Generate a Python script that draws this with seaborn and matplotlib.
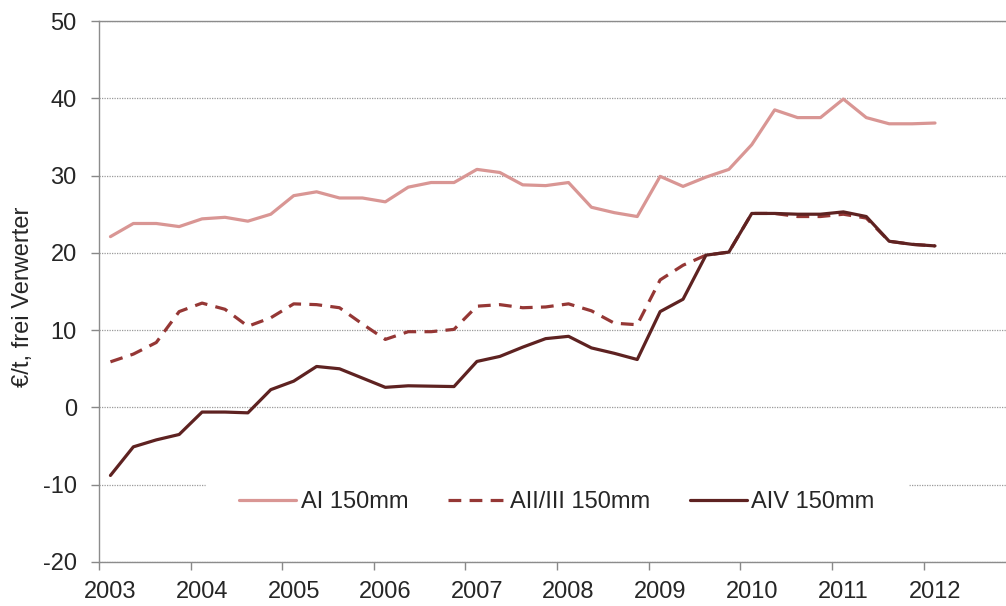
import numpy as np
import pandas as pd
import matplotlib
matplotlib.use("Agg")
import matplotlib.pyplot as plt
import seaborn as sns
from matplotlib.ticker import FixedLocator, NullFormatter

# ---- data (quarterly, 2003 Q1 .. 2012 Q1) ----
years = ["2003", "2004", "2005", "2006", "2007", "2008", "2009", "2010", "2011", "2012"]
series_names = ["AI 150mm", "AII/III 150mm", "AIV 150mm"]

ai = [22.1, 23.8, 23.8, 23.4, 24.4, 24.6, 24.1, 25.0,
      27.4, 27.9, 27.1, 27.1, 26.6, 28.5, 29.1, 29.1,
      30.8, 30.4, 28.8, 28.7, 29.1, 25.9, 25.2, 24.7,
      29.9, 28.6, 29.8, 30.8, 34.0, 38.5, 37.5, 37.5,
      39.9, 37.5, 36.7, 36.7, 36.8]
aii_iii = [5.9, 6.9, 8.4, 12.4, 13.5, 12.7, 10.5, 11.6,
           13.4, 13.3, 12.9, 10.8, 8.8, 9.8, 9.8, 10.1,
           13.1, 13.3, 12.9, 13.0, 13.4, 12.5, 10.9, 10.7,
           16.5, 18.4, 19.7, 20.1, 25.1, 25.1, 24.7, 24.7,
           25.0, 24.5, 21.5, 21.1, 20.9]
aiv = [-8.8, -5.1, -4.2, -3.5, -0.6, -0.6, -0.7, 2.3,
       3.4, 5.3, 5.0, 3.8, 2.6, 2.8, 2.75, 2.7,
       5.95, 6.6, 7.8, 8.9, 9.2, 7.7, 7.0, 6.2,
       12.4, 14.0, 19.7, 20.1, 25.1, 25.1, 25.0, 25.0,
       25.3, 24.7, 21.5, 21.1, 20.9]

colors = ["#D99694", "#953735", "#5E2221"]
styles = ["-", (0, (4, 2.6)), "-"]

sns.set_theme(style="white")
plt.rcParams["font.family"] = ["Liberation Sans", "DejaVu Sans"]
plt.rcParams["axes.unicode_minus"] = False
FS = 17

fig = plt.figure(figsize=(10.06, 6.06), dpi=100)
ax = fig.add_axes([99 / 1006, 44 / 606, 1 - 99 / 1006, 541 / 606])

pos = np.arange(len(ai))
for name, vals, c, ls in zip(series_names, [ai, aii_iii, aiv], colors, styles):
    df = pd.DataFrame({"pos": pos, "value": vals})
    sns.lineplot(data=df, x="pos", y="value", ax=ax, color=c, linewidth=2.3,
                 linestyle=ls, label=name)

ax.set_ylim(-20, 50)
ax.set_xlim(-0.5, 39.1)
ax.set_yticks(np.arange(-20, 51, 10))
ax.yaxis.grid(True, color="#9a9a9a", linestyle=(0, (1, 1)), linewidth=0.9)
ax.xaxis.grid(False)

# year ticks at category boundaries, labels at first quarter of each year
ax.xaxis.set_major_locator(FixedLocator(np.arange(len(years)) * 4 - 0.5))
ax.xaxis.set_major_formatter(NullFormatter())
ax.xaxis.set_minor_locator(FixedLocator(np.arange(len(years)) * 4))
ax.set_xticklabels(years, minor=True)
ax.tick_params(axis="x", which="major", direction="out", length=6, width=1,
               color="#888888", bottom=True)
ax.tick_params(axis="x", which="minor", length=0, pad=14, labelsize=FS,
               bottom=True)
ax.tick_params(axis="y", direction="out", length=6, width=1, color="#888888",
               pad=10, labelsize=FS, left=True)

for s in ["left", "bottom", "top"]:
    ax.spines[s].set_visible(True)
    ax.spines[s].set_color("#8c8c8c")
    ax.spines[s].set_linewidth(1.0)
ax.spines["right"].set_visible(False)

ax.set_xlabel("")
ax.set_ylabel("€/t, frei Verwerter", fontsize=FS)
ax.yaxis.set_label_coords(-0.072, 0.49)

leg = ax.legend(loc="center", bbox_to_anchor=(0.505, 0.11), ncol=3,
                frameon=True, fontsize=FS, handlelength=2.4,
                handletextpad=0.2, columnspacing=1.7, borderpad=1.4,
                borderaxespad=0)
leg.get_frame().set_facecolor("white")
leg.get_frame().set_edgecolor("white")
leg.get_frame().set_alpha(1)

fig.savefig("out.png", dpi=100)
